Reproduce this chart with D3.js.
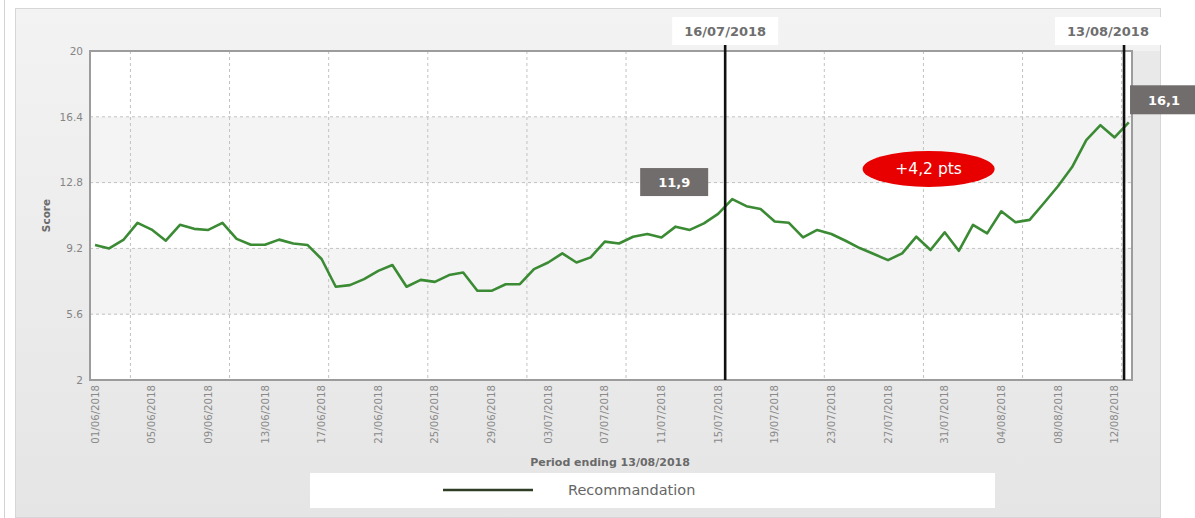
<!DOCTYPE html>
<html><head><meta charset="utf-8">
<script src="https://cdn.jsdelivr.net/npm/d3@7"></script>
<style>
body{margin:0;background:#fff;}
svg{display:block;font-family:"DejaVu Sans",Verdana,sans-serif;}
</style>
</head><body>
<svg id="c" width="1195" height="518"></svg>
<script>
// ---- data ----
const startDate = "2018-06-01";          // first daily point (01/06/2018)
const scores = [
  9.39, 9.2, 9.66, 10.6, 10.23, 9.62, 10.49, 10.27, 10.21, 10.6,
  9.72, 9.4, 9.4, 9.68, 9.47, 9.39, 8.62, 7.1, 7.19, 7.52,
  7.97, 8.29, 7.1, 7.48, 7.37, 7.74, 7.88, 6.88, 6.88, 7.24,
  7.24, 8.07, 8.43, 8.93, 8.43, 8.71, 9.57, 9.47, 9.84, 9.99,
  9.8, 10.39, 10.21, 10.57, 11.09, 11.9, 11.51, 11.36, 10.67, 10.6,
  9.8, 10.21, 9.99, 9.62, 9.22, 8.89, 8.56, 8.93, 9.84, 9.11,
  10.08, 9.07, 10.49, 10.02, 11.23, 10.63, 10.76, 11.67, 12.6, 13.65,
  15.12, 15.94, 15.27, 16.1
];
const yTicks = [2, 5.6, 9.2, 12.8, 16.4, 20];
const labelEvery = 4;
const markerDates = ["2018-07-16T00:00", "2018-08-13T04:00"];
const markerLabels = ["16/07/2018", "13/08/2018"];
const markerValues = [11.9, 16.1];
const markerValueLabels = ["11,9", "16,1"];
const deltaLabel = "+4,2 pts";
const seriesName = "Recommandation";
const xTitle = "Period ending 13/08/2018";
const yTitle = "Score";

// ---- layout ----
const L = 90, R = 1132, T = 51, B = 380;
const svg = d3.select("#c");
const parseDay = d3.timeParse("%Y-%m-%d");
const parseDT = d3.timeParse("%Y-%m-%dT%H:%M");
const fmt = d3.timeFormat("%d/%m/%Y");
const d0 = parseDay(startDate);
const data = scores.map((v, i) => ({date: d3.timeHour.offset(d3.timeDay.offset(d0, i), 12), v}));

const x = d3.scaleTime()
  .domain([d3.timeMinute.offset(data[0].date, -510), d3.timeMinute.offset(data[data.length-1].date, 330)])
  .range([L, R]);
const y = d3.scaleLinear().domain([yTicks[0], yTicks[yTicks.length-1]]).range([B, T]);

// background panel
const defs = svg.append("defs");
const g1 = defs.append("linearGradient").attr("id","pg").attr("x1",0).attr("y1",0).attr("x2",0).attr("y2",1);
g1.append("stop").attr("offset","0").attr("stop-color","#f3f3f3");
g1.append("stop").attr("offset","1").attr("stop-color","#e5e5e5");
svg.append("line").attr("x1",4.5).attr("x2",4.5).attr("y1",0).attr("y2",518).attr("stroke","#d2d2d2");
svg.append("rect").attr("x",15.5).attr("y",8.5).attr("width",1145).attr("height",509)
  .attr("fill","url(#pg)").attr("stroke","#d6d6d6");
svg.append("rect").attr("x",R).attr("y",T).attr("width",1160-R).attr("height",B-T).attr("fill","#e9e9e9");

// bands
for (let i = 0; i < yTicks.length - 1; i++) {
  svg.append("rect").attr("x", L).attr("width", R - L)
    .attr("y", y(yTicks[i+1])).attr("height", y(yTicks[i]) - y(yTicks[i+1]))
    .attr("fill", i % 2 === 1 ? "#f4f4f4" : "#ffffff");
}

// gridlines
svg.append("g").selectAll("line").data(yTicks.slice(1, -1)).join("line")
  .attr("x1", L).attr("x2", R).attr("y1", d => y(d)).attr("y2", d => y(d))
  .attr("stroke", "#c2c2c2").attr("stroke-dasharray", "3,3");
svg.append("g").selectAll("line").data(d3.timeMonday.range(x.domain()[0], x.domain()[1])).join("line")
  .attr("x1", d => x(d)).attr("x2", d => x(d)).attr("y1", T).attr("y2", B)
  .attr("stroke", "#c2c2c2").attr("stroke-dasharray", "3,3");

// frame
svg.append("rect").attr("x", L).attr("y", T).attr("width", R - L).attr("height", B - T)
  .attr("fill", "none").attr("stroke", "#9c9c9c").attr("stroke-width", 2);

// y axis
const ya = svg.append("g").attr("transform", `translate(${L-4},0)`)
  .call(d3.axisLeft(y).tickValues(yTicks).tickSize(0).tickFormat(d => String(d)));
ya.select(".domain").remove();
ya.selectAll("text").attr("fill", "#858585").attr("font-size", "10.5px")
  .attr("font-family", "DejaVu Sans, sans-serif");

// x tick labels
const tickData = data.filter((d, i) => i % labelEvery === 0);
svg.append("g").selectAll("text").data(tickData).join("text")
  .attr("transform", d => `translate(${x(d.date)},${B+5}) rotate(-90)`)
  .attr("text-anchor", "end").attr("dy", "0.35em")
  .attr("font-size", "10.2px").attr("fill", "#8a8a8a")
  .text(d => fmt(d.date));

// titles
svg.append("text").attr("x", 610).attr("y", 466).attr("text-anchor", "middle")
  .attr("font-size", "11px").attr("font-weight", "bold").attr("fill", "#6a6a6a").text(xTitle);
svg.append("text").attr("transform", `translate(50,${(T+B)/2}) rotate(-90)`).attr("text-anchor", "middle")
  .attr("font-size", "10.5px").attr("font-weight", "bold").attr("fill", "#6a6a6a").text(yTitle);

// series line
svg.append("path").datum(data)
  .attr("d", d3.line().x(d => x(d.date)).y(d => y(d.v)))
  .attr("fill", "none").attr("stroke", "#3b8a34").attr("stroke-width", 2.6)
  .attr("stroke-linejoin", "round");

// marker lines and labels
const mDates = markerDates.map(parseDT);
mDates.forEach((md, i) => {
  const xm = x(md);
  svg.append("line").attr("x1", xm).attr("x2", xm).attr("y1", 45).attr("y2", B)
    .attr("stroke", "#111").attr("stroke-width", 2.6);
  const bw = 106, bx = Math.min(xm - bw/2, 1161 - bw);
  svg.append("rect").attr("x", bx).attr("y", 17).attr("width", bw).attr("height", 28).attr("fill", "#fff");
  svg.append("text").attr("x", bx + bw/2).attr("y", 36).attr("text-anchor", "middle")
    .attr("font-size", "13px").attr("font-weight", "bold").attr("fill", "#6e6e6e").text(markerLabels[i]);
});

// value boxes
{
  const xm = x(mDates[0]), yv = y(markerValues[0]);
  const bx = xm - 85, by = yv - 31;
  svg.append("rect").attr("x", bx).attr("y", by).attr("width", 68).attr("height", 28).attr("fill", "#716d6c");
  svg.append("text").attr("x", bx + 34).attr("y", by + 19).attr("text-anchor", "middle")
    .attr("font-size", "13px").attr("font-weight", "bold").attr("fill", "#fff").text(markerValueLabels[0]);
}
{
  const xm = x(mDates[1]), yv = y(markerValues[1]);
  const bx = xm + 6, by = yv - 37;
  svg.append("rect").attr("x", bx).attr("y", by).attr("width", 70).attr("height", 29).attr("fill", "#716d6c");
  svg.append("text").attr("x", bx + 34).attr("y", by + 19.5).attr("text-anchor", "middle")
    .attr("font-size", "13px").attr("font-weight", "bold").attr("fill", "#fff").text(markerValueLabels[1]);
}

// delta ellipse
{
  const cx = (x(mDates[0]) + x(mDates[1])) / 2 + 4, cy = y(13.55);
  svg.append("ellipse").attr("cx", cx).attr("cy", cy).attr("rx", 66).attr("ry", 18).attr("fill", "#e80000");
  svg.append("text").attr("x", cx).attr("y", cy + 5.5).attr("text-anchor", "middle")
    .attr("font-size", "15.5px").attr("fill", "#fff").text(deltaLabel);
}

// legend
svg.append("rect").attr("x", 310).attr("y", 473).attr("width", 685).attr("height", 35).attr("fill", "#fff");
svg.append("line").attr("x1", 443).attr("x2", 533).attr("y1", 490).attr("y2", 490)
  .attr("stroke", "#2f3d24").attr("stroke-width", 2.5);
svg.append("text").attr("x", 568).attr("y", 495).attr("font-size", "14.5px").attr("fill", "#666").text(seriesName);
</script>
</body></html>
